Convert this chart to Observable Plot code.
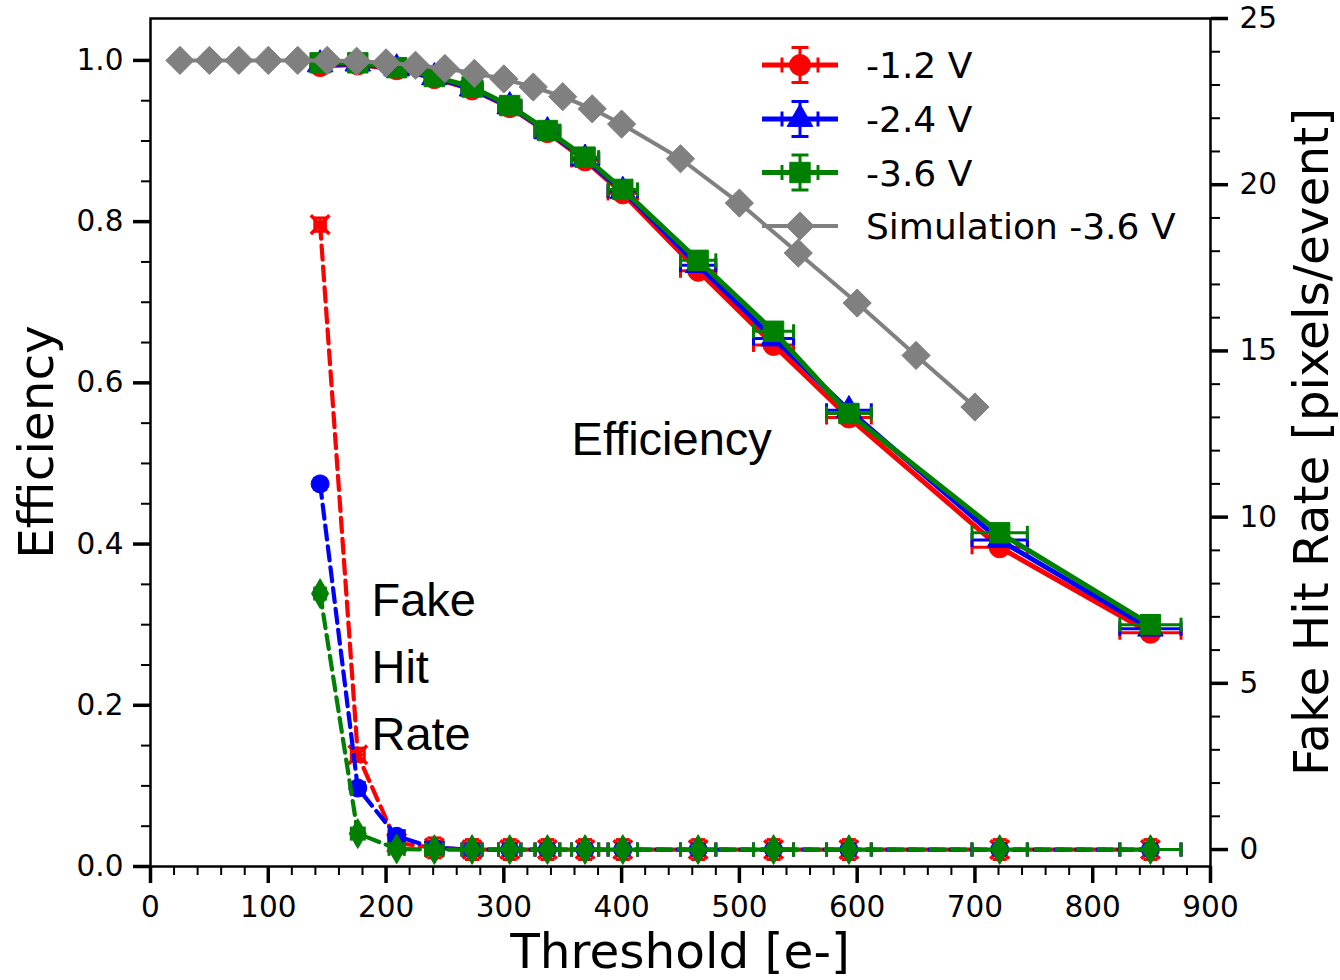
<!DOCTYPE html>
<html><head><meta charset="utf-8">
<script src="https://cdn.jsdelivr.net/npm/d3@7"></script>
<script src="https://cdn.jsdelivr.net/npm/@observablehq/plot@0.6"></script>
<style>body{margin:0;background:#fff;} svg{display:block;}</style>
</head><body><div id="chart"></div>
<script>
// ---- data ----
const thresholds   = [144, 176, 209, 241, 273, 305, 337, 369, 401, 465, 529, 593, 721, 849];
const thresholdErr = [4.5, 5.5, 6.5, 7.5, 8.5, 9.5, 10.5, 11.5, 12.5, 15, 17, 19, 23.5, 26];
const effRed   = [0.993, 0.995, 0.989, 0.978, 0.964, 0.942, 0.911, 0.876, 0.835, 0.739, 0.647, 0.557, 0.396, 0.290];
const effBlue  = [0.995, 0.996, 0.990, 0.979, 0.965, 0.943, 0.912, 0.878, 0.838, 0.746, 0.655, 0.566, 0.405, 0.295];
const effGreen = [0.997, 0.997, 0.991, 0.980, 0.967, 0.944, 0.913, 0.880, 0.840, 0.752, 0.664, 0.562, 0.414, 0.300];
const effErr   = [0.004, 0.004, 0.004, 0.004, 0.004, 0.005, 0.005, 0.005, 0.005, 0.006, 0.006, 0.006, 0.007, 0.007];
const fakeRed   = [18.8, 2.85, 0.20, 0.05, 0, 0, 0, 0, 0, 0, 0, 0, 0, 0];
const fakeBlue  = [11.0, 1.85, 0.40, 0.05, 0, 0, 0, 0, 0, 0, 0, 0, 0, 0];
const fakeGreen = [7.7, 0.48, 0.02, 0, 0, 0, 0, 0, 0, 0, 0, 0, 0, 0];
const fakeErrRed   = [0.2, 0.2, 0.3, 0.3, 0.3, 0.3, 0.3, 0.3, 0.3, 0.3, 0.3, 0.3, 0.3, 0.3];
const fakeErrBlue  = [0.15, 0.1, 0.1, 0.1, 0.1, 0.1, 0.1, 0.1, 0.1, 0.1, 0.1, 0.1, 0.1, 0.1];
const fakeErrGreen = [0.12, 0.1, 0.1, 0.1, 0.1, 0.1, 0.1, 0.1, 0.1, 0.1, 0.1, 0.1, 0.1, 0.1];
const simThreshold = [25, 50, 75, 100, 125, 150, 175, 200, 225, 250, 275, 300, 325, 350, 375, 400, 450, 500, 550, 600, 650, 700];
const simEff       = [1.0, 1.0, 1.0, 1.0, 1.0, 1.0, 0.999, 0.997, 0.994, 0.990, 0.984, 0.977, 0.967, 0.955, 0.940, 0.921, 0.878, 0.823, 0.761, 0.699, 0.634, 0.570];
const seriesNames = ["-1.2 V", "-2.4 V", "-3.6 V"];
const simName = "Simulation -3.6 V";
const seriesColors = ["#ff0000", "#0000ff", "#008000"];
const simColor = "#808080";
const xTicks = [0, 100, 200, 300, 400, 500, 600, 700, 800, 900];
const xMinor = [20,40,60,80,120,140,160,180,220,240,260,280,320,340,360,380,420,440,460,480,520,540,560,580,620,640,660,680,720,740,760,780,820,840,860,880];
const yTicks = [0, 0.2, 0.4, 0.6, 0.8, 1.0];
const yMinor = [0.05,0.1,0.15,0.25,0.3,0.35,0.45,0.5,0.55,0.65,0.7,0.75,0.85,0.9,0.95];
const fakeTicks = [0, 5, 10, 15, 20, 25];
const fakeMinor = [1,2,3,4,6,7,8,9,11,12,13,14,16,17,18,19,21,22,23,24];
const yDomain = [0, 1.052];
const fakeDomain = [-0.51, 25];

// secondary axis mapped into primary y units
const fakeToY = d3.scaleLinear(fakeDomain, yDomain);

const vcap = {draw(ctx, size) { const r = Math.sqrt(size / Math.PI); ctx.moveTo(0, -r); ctx.lineTo(0, r); }};
const hcap = {draw(ctx, size) { const r = Math.sqrt(size / Math.PI); ctx.moveTo(-r, 0); ctx.lineTo(r, 0); }};

function rows(values, errs, toY) {
  return thresholds.map((t, i) => ({
    x: t, xlo: t - thresholdErr[i], xhi: t + thresholdErr[i],
    y: toY(values[i]), ylo: toY(values[i] - errs[i]), yhi: toY(values[i] + errs[i])
  }));
}

function seriesMarks(data, color, marker, lineOpts) {
  const sw = 3;
  return [
    Plot.line(data, {x: "x", y: "y", stroke: color, ...lineOpts}),
    Plot.ruleY(data, {x1: "xlo", x2: "xhi", y: "y", stroke: color, strokeWidth: sw}),
    Plot.ruleX(data, {x: "x", y1: "ylo", y2: "yhi", stroke: color, strokeWidth: sw}),
    Plot.dot(data, {x: "xlo", y: "y", symbol: vcap, r: 7, stroke: color, fill: "none", strokeWidth: sw}),
    Plot.dot(data, {x: "xhi", y: "y", symbol: vcap, r: 7, stroke: color, fill: "none", strokeWidth: sw}),
    Plot.dot(data, {x: "x", y: "ylo", symbol: hcap, r: 7, stroke: color, fill: "none", strokeWidth: sw}),
    Plot.dot(data, {x: "x", y: "yhi", symbol: hcap, r: 7, stroke: color, fill: "none", strokeWidth: sw}),
    Plot.dot(data, {x: "x", y: "y", ...marker})
  ];
}

const id = v => v;
const effData = [effRed, effBlue, effGreen].map((v) => rows(v, effErr, id));
const fakeData = [
  rows(fakeRed, fakeErrRed, fakeToY),
  rows(fakeBlue, fakeErrBlue, fakeToY),
  rows(fakeGreen, fakeErrGreen, fakeToY)
];
const simData = simThreshold.map((t, i) => ({x: t, y: simEff[i]}));

const effMarkers = [
  {symbol: "circle", r: 10.5, fill: seriesColors[0], stroke: seriesColors[0], strokeWidth: 1},
  {symbol: "triangle", r: 9.5, fill: seriesColors[1], stroke: seriesColors[1], strokeWidth: 1},
  {symbol: "square", r: 11.5, fill: seriesColors[2], stroke: seriesColors[2], strokeWidth: 1}
];
const fakeMarkers = [
  {symbol: "times", r: 8.5, stroke: seriesColors[0], fill: "none", strokeWidth: 3.5},
  {symbol: "circle", r: 9, fill: seriesColors[1], stroke: seriesColors[1], strokeWidth: 1},
  {symbol: "diamond", r: 9, fill: seriesColors[2], stroke: seriesColors[2], strokeWidth: 1}
];

const tickFont = 29.5;
const plot = Plot.plot({
  width: 1340, height: 980,
  marginLeft: 150, marginRight: 130, marginTop: 18, marginBottom: 114,
  style: {fontFamily: "'DejaVu Sans', sans-serif", fontSize: "29.5px", background: "#fff", color: "#000", overflow: "visible"},
  x: {domain: [0, 900], label: null},
  y: {domain: yDomain, label: null},
  marks: [
    ...effData.flatMap((d, i) => seriesMarks(d, seriesColors[i], effMarkers[i], {strokeWidth: 5})),
    Plot.line(simData, {x: "x", y: "y", stroke: simColor, strokeWidth: 4}),
    Plot.dot(simData, {x: "x", y: "y", symbol: "diamond2", r: 12.7, fill: simColor, stroke: simColor, strokeWidth: 1}),
    ...fakeData.flatMap((d, i) => seriesMarks(d, seriesColors[i], fakeMarkers[i], {strokeWidth: 4.2, strokeDasharray: "14,7"})),
    Plot.text(["Efficiency"], {x: 357.5, y: 0.51, text: d => d, textAnchor: "start", lineAnchor: "bottom", fontSize: 47, fontFamily: "'Liberation Sans', Arial, sans-serif", fill: "#000"}),
    Plot.text(["Fake\nHit\nRate"], {x: 187.6, y: 0.1451, text: d => d, textAnchor: "start", lineAnchor: "bottom", lineHeight: 1.4255, fontSize: 47, fontFamily: "'Liberation Sans', Arial, sans-serif", fill: "#000"}),
    Plot.frame({stroke: "#000", strokeWidth: 2.5}),
    Plot.axisX(xMinor, {anchor: "bottom", tickSize: 9, strokeWidth: 2, fill: "none", label: null}),
    Plot.axisX(xTicks, {anchor: "bottom", tickSize: 17, tickPadding: 13, strokeWidth: 3.5, fontSize: tickFont, label: null}),
    Plot.axisY(yMinor, {anchor: "left", tickSize: 9, strokeWidth: 2, fill: "none", label: null}),
    Plot.axisY(yTicks, {anchor: "left", tickSize: 17, tickPadding: 10, strokeWidth: 3.5, fontSize: tickFont, tickFormat: d3.format(".1f"), label: null}),
    Plot.axisY(fakeMinor.map(fakeToY), {anchor: "right", tickSize: 9, strokeWidth: 2, fill: "none", label: null}),
    Plot.axisY(fakeTicks.map(fakeToY), {anchor: "right", tickSize: 17, tickPadding: 12, strokeWidth: 3.5, fontSize: tickFont, tickFormat: d => String(Math.round(fakeToY.invert(d))), label: null})
  ]
});
document.getElementById("chart").appendChild(plot);

// ---- axis titles and legend ----
const svg = d3.select(plot);
const titleFont = "'DejaVu Sans', sans-serif";
const titleSize = 48.5;
svg.append("text").attr("transform", "translate(53,442) rotate(-90)").attr("text-anchor", "middle")
  .attr("font-family", titleFont).attr("font-size", titleSize).attr("fill", "#000").text("Efficiency");
svg.append("text").attr("x", 680).attr("y", 968).attr("text-anchor", "middle")
  .attr("font-family", titleFont).attr("font-size", titleSize).attr("fill", "#000").text("Threshold [e-]");
svg.append("text").attr("transform", "translate(1328,442) rotate(-90)").attr("text-anchor", "middle")
  .attr("font-family", titleFont).attr("font-size", titleSize).attr("fill", "#000").text("Fake Hit Rate [pixels/event]");

const legend = svg.append("g").attr("text-anchor", "start");
const legendSymbols = [d3.symbolCircle, d3.symbolTriangle, d3.symbolSquare];
const legendR = [10.5, 9.5, 11.5];
const rowY = [65, 119, 172.5, 226];
seriesNames.forEach((name, i) => {
  const c = seriesColors[i], y = rowY[i];
  const g = legend.append("g").attr("stroke", c).attr("stroke-width", 3).attr("fill", "none");
  g.append("line").attr("x1", 762).attr("x2", 838).attr("y1", y).attr("y2", y).attr("stroke-width", 5);
  g.append("line").attr("x1", 782).attr("x2", 782).attr("y1", y - 7.5).attr("y2", y + 7.5);
  g.append("line").attr("x1", 818).attr("x2", 818).attr("y1", y - 7.5).attr("y2", y + 7.5);
  g.append("line").attr("x1", 800).attr("x2", 800).attr("y1", y - 17.5).attr("y2", y + 17.5);
  g.append("line").attr("x1", 791.5).attr("x2", 808.5).attr("y1", y - 17.5).attr("y2", y - 17.5);
  g.append("line").attr("x1", 791.5).attr("x2", 808.5).attr("y1", y + 17.5).attr("y2", y + 17.5);
  legend.append("path").attr("transform", `translate(800,${y})`)
    .attr("d", d3.symbol(legendSymbols[i], Math.PI * legendR[i] * legendR[i])())
    .attr("fill", c).attr("stroke", c).attr("stroke-width", 1);
  legend.append("text").attr("x", 866).attr("y", y + 13).attr("text-anchor", "start").attr("font-family", titleFont).attr("font-size", 36)
    .attr("fill", "#000").text(name);
});
{
  const y = rowY[3];
  legend.append("line").attr("x1", 762).attr("x2", 838).attr("y1", y).attr("y2", y).attr("stroke", simColor).attr("stroke-width", 4);
  legend.append("path").attr("transform", `translate(800,${y})`)
    .attr("d", d3.symbol(d3.symbolDiamond2, Math.PI * 12.7 * 12.7)())
    .attr("fill", simColor).attr("stroke", simColor).attr("stroke-width", 1);
  legend.append("text").attr("x", 866).attr("y", y + 13).attr("text-anchor", "start").attr("font-family", titleFont).attr("font-size", 36)
    .attr("fill", "#000").text(simName);
}
</script>
</body></html>
